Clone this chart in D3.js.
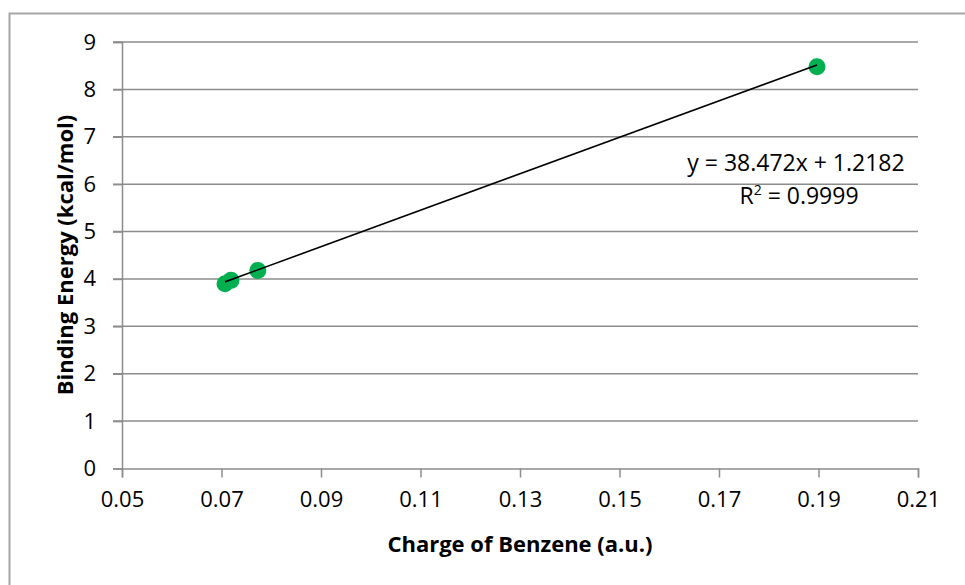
<!DOCTYPE html>
<html>
<head>
<meta charset="utf-8">
<script src="https://cdn.jsdelivr.net/npm/d3@7"></script>
<style>
  body { margin: 0; background: #fff; }
  svg text { font-family: "Open Sans", "Noto Sans", sans-serif; fill: #000; }
</style>
</head>
<body>
<svg id="chart" width="965" height="585"></svg>
<script>
// data
let charge = [0.0707, 0.0719, 0.0773, 0.1897]
let energy = [3.90, 3.97, 4.18, 8.48]
let xTicks = [0.05, 0.07, 0.09, 0.11, 0.13, 0.15, 0.17, 0.19, 0.21]
let yTicks = [0, 1, 2, 3, 4, 5, 6, 7, 8, 9]
let slope = 38.472
let intercept = 1.2182
let eqLabel = "y = 38.472x + 1.2182"
let r2Label = "0.9999"

let width = 796
let height = 426.5
let margin_x = 122
let margin_y = 42

let svg = d3.select("#chart")

// outer frame (goes off the right and bottom edges)
svg.append("rect")
    .attr("x", 9.5).attr("y", 13.5)
    .attr("width", 1000).attr("height", 700)
    .attr("fill", "none")
    .attr("stroke", "#a6a6a6")
    .attr("stroke-width", 2)

let x = d3.scaleLinear().domain([0.05, 0.21]).range([0, width])
let y = d3.scaleLinear().domain([0, 9]).range([height, 0])

let g = svg.append("g")
    .attr("transform", "translate(" + margin_x + "," + margin_y + ")")

//gridlines
g.selectAll(".grid").data(yTicks.filter(d => d > 0)).join("line")
    .attr("x1", -9).attr("x2", width)
    .attr("y1", d => y(d)).attr("y2", d => y(d))
    .attr("stroke", "#8c8c8c")
    .attr("stroke-width", 1.5)

//y axis
let yAxis = g.append("g")
    .call(d3.axisLeft(y).tickValues(yTicks).tickSize(9).tickPadding(17).tickFormat(d3.format("d")))
yAxis.select(".domain").attr("stroke", "#8c8c8c").attr("stroke-width", 1.5)
yAxis.selectAll(".tick line").attr("stroke", "#8c8c8c").attr("stroke-width", 1.5)
yAxis.selectAll("text").style("font-size", "22px").attr("fill", "#000")

//x axis
let xAxis = g.append("g")
    .attr("transform", "translate(0," + height + ")")
    .call(d3.axisBottom(x).tickValues(xTicks).tickSize(9).tickPadding(14).tickFormat(d3.format(".2f")))
xAxis.select(".domain").attr("stroke", "#8c8c8c").attr("stroke-width", 1.5)
xAxis.selectAll(".tick line").attr("stroke", "#8c8c8c").attr("stroke-width", 1.5)
xAxis.selectAll("text").style("font-size", "22px").attr("fill", "#000")

//axis titles
svg.append("text")
    .attr("text-anchor", "middle")
    .attr("x", 520).attr("y", 552)
    .style("font-size", "22px").style("font-weight", "bold")
    .text("Charge of Benzene (a.u.)")

svg.append("text")
    .attr("transform", "translate(73,255) rotate(-90)")
    .attr("text-anchor", "middle")
    .style("font-size", "22px").style("font-weight", "bold")
    .text("Binding Energy (kcal/mol)")

//points
g.selectAll(".dot").data(charge).join("circle")
    .attr("cx", d => x(d))
    .attr("cy", (d, i) => y(energy[i]))
    .attr("r", 8.5)
    .style("fill", "#00b050")

//trendline
let x0 = d3.min(charge), x1 = d3.max(charge)
g.append("line")
    .attr("x1", x(x0)).attr("y1", y(slope * x0 + intercept))
    .attr("x2", x(x1)).attr("y2", y(slope * x1 + intercept))
    .attr("stroke", "#000")
    .attr("stroke-width", 1.6)

//equation label
svg.append("text")
    .attr("text-anchor", "middle")
    .attr("x", 796).attr("y", 171)
    .style("font-size", "23px")
    .text(eqLabel)

let r2 = svg.append("text")
    .attr("text-anchor", "middle")
    .attr("x", 799).attr("y", 204)
    .style("font-size", "23px")
r2.append("tspan").text("R")
r2.append("tspan").attr("dy", -9).style("font-size", "14px").text("2")
r2.append("tspan").attr("dy", 9).text(" = " + r2Label)
</script>
</body>
</html>
